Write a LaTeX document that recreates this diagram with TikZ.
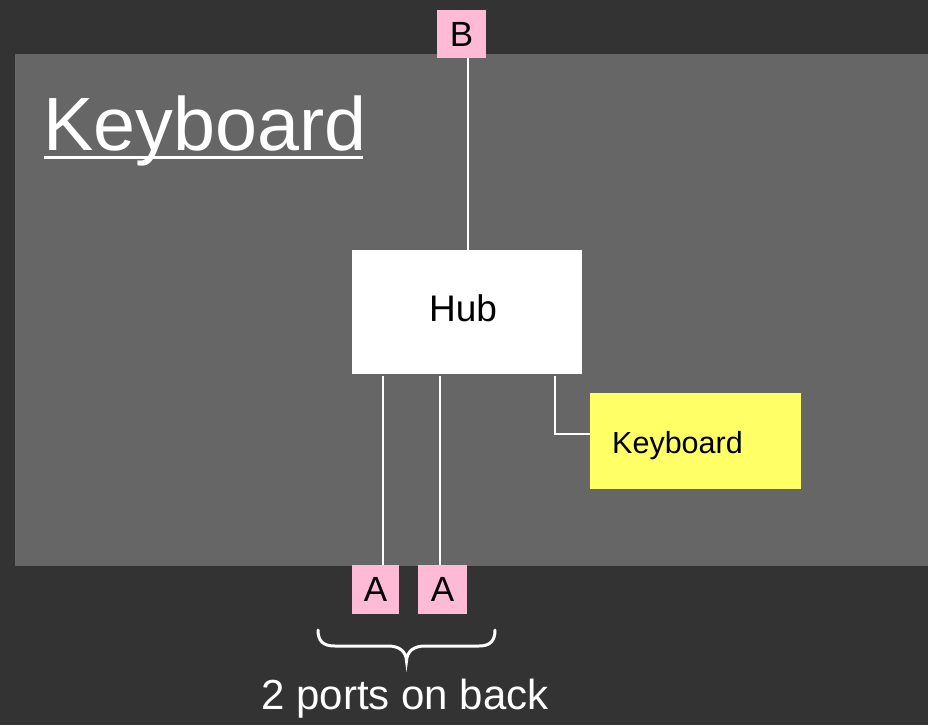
\documentclass[tikz,border=0pt]{standalone}
\usepackage{fontspec}
\setmainfont{Liberation Sans}
\definecolor{bgdark}{HTML}{333333}
\definecolor{panel}{HTML}{666666}
\definecolor{portpink}{HTML}{FFBBD6}
\definecolor{kbyellow}{HTML}{FFFF66}
\tikzset{
  portbox/.style={fill=portpink, inner sep=0pt, minimum width=48pt, minimum height=48pt, text=black, font=\fontsize{35}{40}\selectfont},
  hubbox/.style={fill=white, inner sep=0pt, minimum width=230pt, minimum height=124pt},
  hubtext/.style={text=black, font=\fontsize{37}{40}\selectfont},
  kbbox/.style={fill=kbyellow, anchor=west, inner sep=0pt, minimum width=211pt, minimum height=96pt},
  kbtext/.style={text=black, inner sep=0pt, anchor=west, font=\fontsize{30.5}{34}\selectfont},
  wire/.style={draw=white, line width=2pt},
}
\begin{document}
\begin{tikzpicture}[x=1pt,y=-1pt]
\fill[bgdark] (0,0) rectangle (928,725);
\useasboundingbox (0,0) rectangle (928,725);
\fill[panel] (15,54) rectangle (928,566);
% title
\node[anchor=base west, inner sep=0pt, text=white, font=\fontsize{75.5}{80}\selectfont] (title) at (43,150) {Keyboard};
\draw[white, line width=3pt] (title.base west) ++(1,7) coordinate (ul1) -- ++(319,0) coordinate (ul2);
% nodes
\node[portbox, minimum width=49pt] (B) at (461.5,34) {B};
\node[hubbox, label={[hubtext, xshift=-4pt, yshift=4pt]center:Hub}] (hub) at (467,312) {};
\node[portbox, minimum width=47pt, minimum height=49pt] (A1) at (375.5,589.5) {A};
\node[portbox, minimum width=49pt, minimum height=49pt] (A2) at (442.5,589.5) {A};
\node[kbbox, label={[kbtext, xshift=22pt, yshift=-5pt]west:Keyboard}] (kb) at (590,441) {};
% connectors
\draw[wire] ([xshift=6.5pt]B.south) -- ([xshift=1pt]hub.north);
\draw[wire] ([xshift=-84pt,yshift=-2pt]hub.south) -- ([xshift=7.5pt]A1.north);
\draw[wire] ([xshift=-27pt,yshift=-2pt]hub.south) -- ([xshift=-2.5pt]A2.north);
\draw[wire] ([xshift=88pt,yshift=-2pt]hub.south) |- ([yshift=7pt]kb.west);
% brace
\draw[white, line width=3pt, line cap=round]
  (318,630) .. controls (318,641) and (323,646) .. (335,646)
  -- (388,646) .. controls (399,646) and (406,651) .. (406.5,661)
  .. controls (407,651) and (414,646) .. (425,646)
  -- (479,646) .. controls (490,646) and (495,641) .. (495,630);
\node[text=white, inner sep=0pt, font=\fontsize{42}{46}\selectfont] (cap) at (405,699) {2 ports on back};
\end{tikzpicture}
\end{document}
